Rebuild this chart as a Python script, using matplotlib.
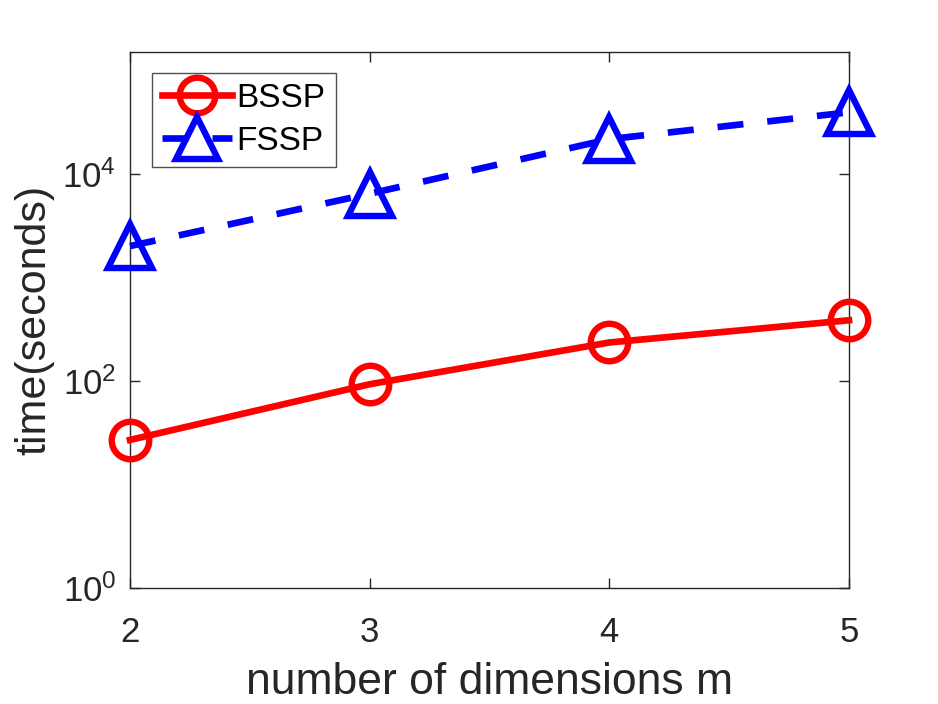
import matplotlib
matplotlib.use('Agg')
import matplotlib.pyplot as plt
from matplotlib.ticker import FixedLocator, NullLocator

# data
dims = [2, 3, 4, 5]
bssp_time = [27, 93, 235, 385]
fssp_time = [2000, 6400, 21500, 39000]

plt.rcParams['font.family'] = ['Liberation Sans', 'DejaVu Sans']
plt.rcParams['mathtext.fontset'] = 'custom'
plt.rcParams['mathtext.rm'] = 'Liberation Sans'
plt.rcParams['mathtext.it'] = 'Liberation Sans'

dark = '#262626'

fig = plt.figure(figsize=(9.38, 7.04), dpi=100)
ax = fig.add_axes([0.1386, 0.1643, 0.7665, 0.7623])

ax.plot(dims, bssp_time, color='red', linestyle='-', linewidth=4.8,
        marker='o', markersize=27, markerfacecolor='none',
        markeredgewidth=4.6, label='BSSP', clip_on=False, zorder=3)
ax.plot(dims, fssp_time, color='blue', linestyle=(0, (3.9, 3.6)), linewidth=4.8,
        marker='^', markersize=32, markerfacecolor='none',
        markeredgewidth=4.6, label='FSSP', clip_on=False, zorder=3)

ax.set_yscale('log')
ax.set_xlim(2, 5)
ax.set_ylim(1, 1.5e5)
ax.set_xticks(dims)
ax.yaxis.set_major_locator(FixedLocator([1, 1e2, 1e4]))
ax.yaxis.set_minor_locator(NullLocator())
ax.set_yticklabels([r'$10^0$', r'$10^2$', r'$10^4$'])

ax.tick_params(axis='both', which='major', direction='in', length=7,
               width=1, colors=dark, labelsize=25, top=True, right=True)
ax.tick_params(axis='x', pad=20)
ax.tick_params(axis='y', pad=10)
for sp in ax.spines.values():
    sp.set_color(dark)
    sp.set_linewidth(1)

ax.set_xlabel('number of dimensions m', fontsize=32, color=dark, labelpad=9)
ax.set_ylabel('time(seconds)', fontsize=31, color=dark, labelpad=6)

leg = ax.legend(loc='upper left', bbox_to_anchor=(0.03, 0.96), fontsize=24,
                frameon=True, fancybox=False, edgecolor=dark,
                handlelength=2.1, handletextpad=0.15, borderpad=0.3,
                labelspacing=0.35, borderaxespad=0, markerscale=0.95)
leg.get_frame().set_linewidth(1)

fig.savefig('out.png', dpi=100)
